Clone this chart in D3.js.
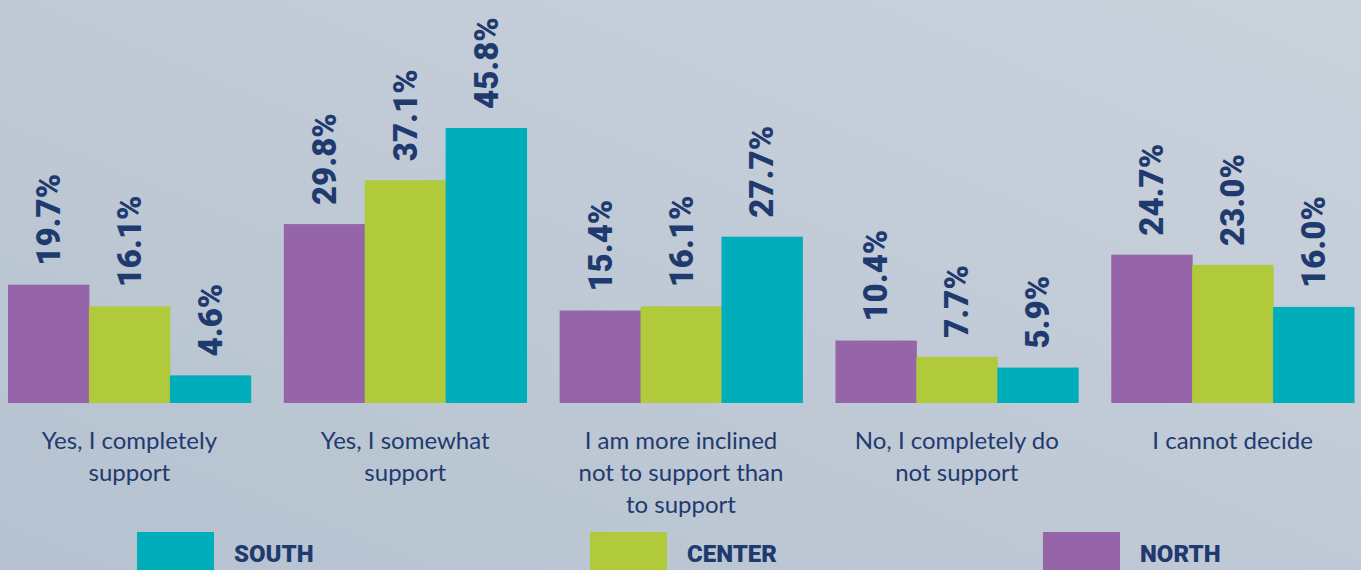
<!DOCTYPE html>
<html lang="en">
<head>
<meta charset="utf-8">
<title>Support by region</title>
<script src="https://d3js.org/d3.v7.min.js"></script>
<style>
  html, body { margin: 0; padding: 0; overflow: hidden; }
  svg { display: block; }
</style>
</head>
<body>
<svg id="chart" width="1361" height="570"></svg>
<script>
// data
const categories = [
  ["Yes, I completely", "support"],
  ["Yes, I somewhat", "support"],
  ["I am more inclined", "not to support than", "to support"],
  ["No, I completely do", "not support"],
  ["I cannot decide"]
];
const series = ["NORTH", "CENTER", "SOUTH"];
const north  = [19.7, 29.8, 15.4, 10.4, 24.7];
const center = [16.1, 37.1, 16.1, 7.7, 23.0];
const south  = [4.6, 45.8, 27.7, 5.9, 16.0];
const legendOrder = ["SOUTH", "CENTER", "NORTH"];

const colors = { NORTH: "#9664a8", CENTER: "#b1ca3b", SOUTH: "#00adba" };
const navy = "#1f3a6f";

const width = 1361, height = 570;
const baseY = 403;

const svg = d3.select("#chart");

// background gradient
const defs = svg.append("defs");
const grad = defs.append("linearGradient").attr("id", "bg")
  .attr("x1", "0%").attr("y1", "100%").attr("x2", "100%").attr("y2", "0%");
grad.append("stop").attr("offset", "0%").attr("stop-color", "#b6c2d0");
grad.append("stop").attr("offset", "100%").attr("stop-color", "#cad2dc");
svg.append("rect").attr("width", width).attr("height", height).attr("fill", "url(#bg)");

const values = { NORTH: north, CENTER: center, SOUTH: south };
const rows = categories.map((c, i) => ({ i, lines: c, vals: series.map(s => ({ s, v: values[s][i] })) }));

const x0 = d3.scaleBand().domain(d3.range(categories.length))
  .range([8, 1354]).paddingInner(0.12).paddingOuter(0);
const x1 = d3.scaleBand().domain(series).range([0, x0.bandwidth()]);
const y = d3.scaleLinear().domain([0, 45.8]).range([baseY, 128]);

const groups = svg.append("g").selectAll("g").data(rows).join("g")
  .attr("transform", d => `translate(${x0(d.i)},0)`);

groups.selectAll("rect").data(d => d.vals).join("rect")
  .attr("x", d => x1(d.s))
  .attr("y", d => y(d.v))
  .attr("width", x1.bandwidth() + 0.5)
  .attr("height", d => baseY - y(d.v))
  .attr("fill", d => colors[d.s]);

// value labels, rotated
groups.selectAll("text.val").data(d => d.vals).join("text")
  .attr("class", "val")
  .attr("transform", d => `translate(${x1(d.s) + x1.bandwidth() / 2},${y(d.v) - 19}) rotate(-90)`)
  .attr("dominant-baseline", "central")
  .attr("text-anchor", "start")
  .style("font-family", "Roboto, sans-serif")
  .style("font-weight", 900)
  .style("font-size", "33px")
  .attr("fill", navy)
  .text(d => d.v.toFixed(1) + "%");

// category labels
const cat = groups.append("text")
  .attr("text-anchor", "middle")
  .style("font-family", "Lato, sans-serif")
  .style("font-size", "24px")
  .attr("fill", navy);
cat.selectAll("tspan").data(d => d.lines).join("tspan")
  .attr("x", x0.bandwidth() / 2)
  .attr("y", (d, i) => 449 + i * 32)
  .text(d => d);

// legend
const lx = d3.scalePoint().domain(legendOrder).range([137, 1043]);
const leg = svg.append("g").selectAll("g").data(legendOrder).join("g")
  .attr("transform", d => `translate(${lx(d)},532)`);
leg.append("rect").attr("width", 77).attr("height", 40).attr("fill", d => colors[d]);
leg.append("text")
  .attr("x", 97).attr("y", 30)
  .style("font-family", "Roboto, sans-serif")
  .style("font-weight", 900)
  .style("font-size", "24px")
  .attr("fill", navy)
  .text(d => d);
</script>
</body>
</html>
